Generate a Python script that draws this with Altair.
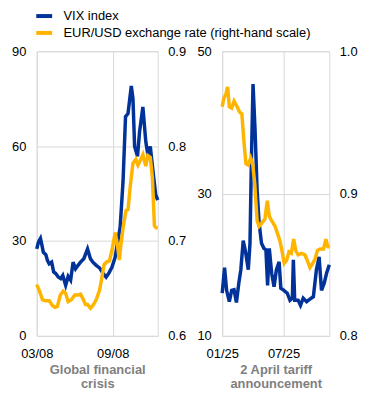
import altair as alt
import pandas as pd

# ---- Global financial crisis panel (days since 2008-03-01) ----
gfc_vix_days = [0, 4, 9, 12, 16, 22, 26, 30, 36, 41, 46, 52, 58, 63, 70, 76, 82, 88, 94, 100,
                106, 114, 123, 130, 136, 144, 152, 160, 168, 174, 182, 190, 195, 202, 205, 209,
                215, 221, 229, 233, 237, 244, 249, 257, 264, 269, 275, 281, 288, 293]
gfc_vix = [27.5, 29.6, 30.8, 29.0, 26.4, 25.7, 23.8, 22.8, 23.3, 20.2, 19.7, 18.6, 18.1, 19.1,
           16.0, 18.8, 17.6, 23.3, 21.2, 22.3, 23.3, 24.4, 27.5, 24.4, 23.3, 22.3, 21.5, 19.9,
           18.6, 19.7, 21.7, 24.9, 29.0, 34.3, 40.6, 48.9, 69.3, 70.3, 79.0, 75.0, 59.9, 56.8,
           64.6, 72.4, 61.5, 57.3, 59.9, 52.6, 44.7, 42.9]
gfc_eur_days = [0, 6, 14, 22, 30, 38, 44, 50, 57, 64, 70, 76, 84, 92, 100, 106, 112, 118, 123,
                130, 136, 144, 152, 158, 163, 170, 176, 182, 190, 195, 200, 203, 209, 216, 221,
                227, 233, 240, 245, 252, 257, 264, 269, 275, 280, 285, 289, 293]
gfc_eur = [0.654, 0.648, 0.638, 0.637, 0.637, 0.632, 0.630, 0.631, 0.643, 0.647, 0.645, 0.636,
           0.638, 0.643, 0.643, 0.644, 0.639, 0.633, 0.633, 0.629, 0.632, 0.638, 0.648, 0.662,
           0.675, 0.678, 0.679, 0.690, 0.709, 0.697, 0.680, 0.693, 0.714, 0.732, 0.733, 0.760,
           0.782, 0.786, 0.780, 0.786, 0.791, 0.779, 0.790, 0.788, 0.767, 0.716, 0.714, 0.714]

# ---- 2 April tariff announcement panel (days since 2025-01-01) ----
tar_vix_days = [0, 7, 13, 21, 28, 35, 42, 49, 55, 62, 69, 77, 82, 86, 91, 97, 103, 109, 116,
                123, 129, 134, 139, 146, 153, 160, 168, 173, 182, 192, 200, 207, 210, 214, 224,
                231, 239, 249, 257, 269, 278, 286, 293, 301, 308, 316]
tar_vix = [16.0, 19.6, 16.4, 14.8, 16.4, 16.5, 14.7, 17.4, 19.3, 23.4, 21.8, 19.3, 23.0, 34.2,
           45.4, 38.9, 30.5, 25.8, 23.0, 22.3, 22.1, 17.1, 22.3, 18.8, 16.9, 19.3, 20.4, 16.7,
           16.4, 16.0, 15.0, 15.3, 20.7, 15.0, 15.0, 14.3, 15.3, 14.8, 15.1, 15.5, 19.3, 21.1,
           16.4, 17.4, 18.8, 20.0]
tar_eur_days = [0, 5, 11, 16, 21, 28, 35, 44, 52, 58, 64, 70, 77, 84, 90, 96, 103, 109, 116,
                126, 133, 139, 146, 156, 163, 170, 177, 183, 190, 197, 204, 211, 217, 224, 234,
                244, 251, 259, 267, 274, 281, 289, 299, 306, 311, 316]
tar_eur = [0.961, 0.967, 0.970, 0.975, 0.961, 0.960, 0.965, 0.961, 0.957, 0.956, 0.937, 0.921,
           0.920, 0.925, 0.921, 0.907, 0.881, 0.877, 0.879, 0.882, 0.895, 0.884, 0.881, 0.877,
           0.872, 0.867, 0.859, 0.851, 0.853, 0.859, 0.858, 0.868, 0.860, 0.857, 0.858, 0.857,
           0.853, 0.848, 0.851, 0.854, 0.860, 0.861, 0.861, 0.868, 0.863, 0.862]

VIX = "VIX index"
EUR = "EUR/USD exchange rate (right-hand scale)"
series_names = [VIX, EUR]
series_colors = ["#003299", "#ffb400"]
FONT = "Liberation Sans"


def frame(base, days, vals, name):
    dates = pd.Timestamp(base) + pd.to_timedelta(days, unit="D")
    return pd.DataFrame({"date": dates, "value": vals, "series": name})


gfc = pd.concat([frame("2008-03-01", gfc_vix_days, gfc_vix, VIX),
                 frame("2008-03-01", gfc_eur_days, gfc_eur, EUR)])
tar = pd.concat([frame("2025-01-01", tar_vix_days, tar_vix, VIX),
                 frame("2025-01-01", tar_eur_days, tar_eur, EUR)])

color_scale = alt.Scale(domain=series_names, range=series_colors)
legend = alt.Legend(title=None, orient="none", legendX=1, legendY=-42,
                    direction="vertical", symbolType="M-2,0H2", symbolStrokeWidth=4,
                    symbolSize=64, labelFontSize=13, labelFont=FONT, labelColor="#000000",
                    labelOffset=13, rowPadding=0, padding=0, labelLimit=400)


def panel(df, xdom, xticks, title, vdom, vticks, edom, eticks, width):
    base = alt.Chart(df).encode(
        x=alt.X("date:T",
                scale=alt.Scale(domain=xdom, nice=False),
                axis=alt.Axis(values=xticks, format="%m/%y", title=title,
                              labelFlush=False, labelPadding=12, titlePadding=3,
                              grid=True)),
        color=alt.Color("series:N", scale=color_scale, legend=legend),
    )
    vix = base.transform_filter(alt.datum.series == VIX).mark_line(strokeWidth=3.5).encode(
        y=alt.Y("value:Q", scale=alt.Scale(domain=vdom, nice=False, zero=False),
                axis=alt.Axis(values=vticks, orient="left", title=None, grid=True,
                              labelPadding=11)))
    eur = base.transform_filter(alt.datum.series == EUR).mark_line(strokeWidth=3.5).encode(
        y=alt.Y("value:Q", scale=alt.Scale(domain=edom, nice=False, zero=False),
                axis=alt.Axis(values=eticks, orient="right", title=None, grid=False,
                              format=".1f", labelPadding=10)))
    return alt.layer(vix, eur).resolve_scale(y="independent").properties(width=width, height=287)


left = panel(gfc,
             [alt.DateTime(year=2008, month=3, date=1), alt.DateTime(year=2008, month=12, date=19)],
             [alt.DateTime(year=2008, month=3, date=1), alt.DateTime(year=2008, month=9, date=1)],
             ["Global financial", "crisis"],
             [0, 90], [0, 30, 60, 90], [0.6, 0.9], [0.6, 0.7, 0.8, 0.9], 122)
right = panel(tar,
              [alt.DateTime(year=2025, month=1, date=1), alt.DateTime(year=2025, month=11, date=13)],
              [alt.DateTime(year=2025, month=1, date=1), alt.DateTime(year=2025, month=7, date=1)],
              ["2 April tariff", "announcement"],
              [10, 50], [10, 30, 50], [0.8, 1.0], [0.8, 0.9, 1.0], 108)

chart = alt.hconcat(left, right, spacing=10).resolve_scale(color="shared").properties(
    padding={"left": 3, "top": 0, "right": 5, "bottom": 0}
).configure_view(stroke="#d9d9d9", strokeWidth=1).configure_axis(
    labelFont=FONT, labelFontSize=13, labelColor="#000000", ticks=False, domain=False,
    gridColor="#d9d9d9", gridWidth=1, titleFont=FONT, titleFontSize=13,
    titleFontWeight="bold", titleColor="#7f7f7f", titleLineHeight=14
).configure_legend(
    symbolSize=64, symbolStrokeWidth=4, rowPadding=0, labelFontSize=13,
    symbolType="M-2,0H2", labelLimit=400
)

chart.save("out.html", embed_options={"renderer": "svg", "actions": False})
